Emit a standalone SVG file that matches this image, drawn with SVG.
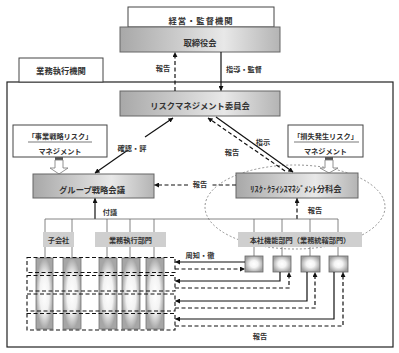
<svg xmlns="http://www.w3.org/2000/svg" width="399" height="353" viewBox="0 0 399 353">
<defs>
<linearGradient id="gBox" x1="0" y1="0" x2="1" y2="0">
<stop offset="0" stop-color="#a8a8a8"/>
<stop offset="0.65" stop-color="#e8e8e8"/>
<stop offset="1" stop-color="#b4b4b4"/>
</linearGradient>
<radialGradient id="gStrip" cx="0.5" cy="0.5" r="0.5">
<stop offset="0" stop-color="#ffffff"/>
<stop offset="0.55" stop-color="#f2f2f2"/>
<stop offset="1" stop-color="#a6a6a6"/>
</radialGradient>
<radialGradient id="gSmall" cx="0.5" cy="0.5" r="0.55">
<stop offset="0" stop-color="#ffffff"/>
<stop offset="0.4" stop-color="#f4f4f4"/>
<stop offset="1" stop-color="#a0a0a0"/>
</radialGradient>
<marker id="ah" viewBox="0 0 6 6" refX="5.5" refY="3" markerWidth="5" markerHeight="5" orient="auto" markerUnits="userSpaceOnUse">
<path d="M0,0 L6,3 L0,6 z" fill="#111"/>
</marker>
<style>
text{font-family:"Noto Sans CJK JP","Noto Sans CJK SC",sans-serif;fill:#333;text-anchor:middle;font-weight:bold}
.t{font-size:8.3px}
.s{font-size:7.2px}
.box{fill:url(#gBox);stroke:#666;stroke-width:1}
.wbox{fill:#fff;stroke:#444;stroke-width:1}
.lbl{fill:#cfcfcf;stroke:none}
.strip{fill:url(#gStrip);stroke:#777;stroke-width:0.8}
.sm{fill:url(#gSmall);stroke:#666;stroke-width:0.8}
.sol{fill:none;stroke:#111;stroke-width:1.2}
.dsh{fill:none;stroke:#111;stroke-width:1.2;stroke-dasharray:4 2.5}
.thin{fill:none;stroke:#666;stroke-width:0.8}
.row{fill:none;stroke:#111;stroke-width:1.1;stroke-dasharray:4 2.5}
.hol{fill:#fff;stroke:#777;stroke-width:0.8}
</style>
</defs>

<g id="frame">
<rect x="7" y="82" width="386" height="265" fill="#fff" stroke="#222" stroke-width="1.2"/>
</g>

<g id="ellipse">
<ellipse cx="295" cy="207" rx="90" ry="42" fill="none" stroke="#777" stroke-width="0.8" stroke-dasharray="2 2"/>
</g>

<g id="kanri">
<rect x="128" y="7" width="146" height="20" class="wbox" stroke="#888"/>
<text x="201" y="24" class="t" letter-spacing="1">経営・監督機関</text>
</g>
<g id="torishimari">
<rect x="120" y="27" width="160" height="25" class="box"/>
<text x="200" y="46" class="t">取締役会</text>
</g>
<g id="gyomu-tab">
<rect x="19" y="58" width="84" height="24" class="wbox" stroke="#888"/>
<text x="61" y="74" class="t">業務執行機関</text>
</g>
<g id="rmc">
<rect x="120" y="91" width="160" height="25" class="box"/>
<text x="200" y="109" class="t">リスクマネジメント委員会</text>
</g>
<g id="jigyo">
<rect x="13" y="125" width="94" height="32" class="wbox"/>
<text x="60" y="139" class="s">「事業戦略リスク」</text>
<line x1="28" y1="142" x2="92" y2="142" stroke="#555" stroke-width="0.8"/>
<text x="60" y="154" class="s">マネジメント</text>
<rect x="55" y="157" width="8" height="3" fill="#555"/>
<path d="M55,160 L63,160 L63,168 L68,168 L59,174 L50,168 L55,168 Z" class="hol"/>
</g>
<g id="sonshitsu">
<rect x="288" y="125" width="75" height="32" class="wbox"/>
<text x="325.5" y="139" class="s">「損失発生リスク」</text>
<line x1="294" y1="142" x2="359" y2="142" stroke="#555" stroke-width="0.8"/>
<text x="325.5" y="154" class="s">マネジメント</text>
<rect x="325" y="157" width="8" height="3" fill="#555"/>
<path d="M325,160 L333,160 L333,168 L338,168 L329,173 L320,168 L325,168 Z" class="hol"/>
</g>
<g id="group">
<rect x="33" y="174" width="121" height="24" class="box"/>
<text x="92" y="193" class="t">グループ戦略会議</text>
</g>
<g id="rmcc">
<rect x="236" y="173" width="122" height="25" class="box"/>
<text x="296" y="192" class="t">ﾘｽｸ･ｸﾗｲｼｽﾏﾈｼﾞﾒﾝﾄ分科会</text>
</g>

<g id="connectors">
<line x1="175" y1="91" x2="175" y2="52.5" class="dsh" marker-end="url(#ah)"/>
<line x1="221" y1="52" x2="221" y2="90.5" class="sol" marker-end="url(#ah)"/>
<line x1="145" y1="137" x2="173" y2="118" class="sol" marker-end="url(#ah)"/>
<line x1="128" y1="150" x2="95" y2="173" class="sol" marker-end="url(#ah)"/>
<line x1="216" y1="117" x2="293" y2="172" class="sol" marker-end="url(#ah)"/>
<line x1="285" y1="171" x2="208" y2="118" class="dsh" marker-end="url(#ah)"/>
<line x1="236" y1="185" x2="212" y2="185" class="dsh"/>
<line x1="188" y1="185" x2="154.5" y2="185" class="dsh" marker-end="url(#ah)"/>
<line x1="95" y1="219" x2="95" y2="198.5" class="sol" marker-end="url(#ah)"/>
<line x1="297" y1="219" x2="297" y2="198.5" class="dsh" marker-end="url(#ah)"/>
<line x1="45" y1="219" x2="338" y2="219" class="thin"/>
<path d="M45,219V258 M72,219V258 M107,219V258 M130,219V258 M154,219V258 M254,219V256 M282,219V256 M310,219V256 M338,219V256" class="thin"/>
</g>

<g id="labels">
<rect x="43" y="232" width="31" height="15" class="lbl"/>
<text x="58.5" y="242.5" class="s">子会社</text>
<rect x="95" y="232" width="71" height="15" class="lbl"/>
<text x="130.5" y="242.5" class="s">業務執行部門</text>
<rect x="238" y="232" width="124" height="15" class="lbl"/>
<text x="300" y="242.5" class="s">本社機能部門（業務統轄部門）</text>
</g>

<g id="strips">
<rect x="36" y="258" width="17" height="71" class="strip"/>
<rect x="63" y="258" width="18" height="71" class="strip"/>
<rect x="99" y="258" width="18" height="71" class="strip"/>
<rect x="122" y="258" width="18" height="71" class="strip"/>
<rect x="146" y="258" width="18" height="71" class="strip"/>
</g>

<g id="rows">
<rect x="27" y="257.5" width="148" height="15" class="row"/>
<rect x="27" y="275.5" width="148" height="15.5" class="row"/>
<rect x="27" y="294" width="148" height="17" class="row"/>
<rect x="27" y="313.5" width="148" height="16.5" class="row"/>
</g>

<g id="honsha-boxes">
<rect x="245" y="256" width="18" height="16" class="sm"/>
<rect x="273" y="256" width="18" height="16" class="sm"/>
<rect x="301" y="256" width="19" height="16" class="sm"/>
<rect x="329" y="256" width="19" height="16" class="sm"/>
</g>

<g id="bottom-connectors">
<line x1="245" y1="262" x2="175.5" y2="262" class="sol" marker-end="url(#ah)"/>
<line x1="175" y1="269" x2="244.5" y2="269" class="dsh" marker-end="url(#ah)"/>
<path d="M280,272 V281 H175.5" class="sol" marker-end="url(#ah)"/>
<path d="M175,288 H289 V272.5" class="dsh" marker-end="url(#ah)"/>
<path d="M307,272 V301 H175.5" class="sol" marker-end="url(#ah)"/>
<path d="M175,308 H315 V272.5" class="dsh" marker-end="url(#ah)"/>
<path d="M334,272 V319 H175.5" class="sol" marker-end="url(#ah)"/>
<path d="M175,326 H343 V272.5" class="dsh" marker-end="url(#ah)"/>
</g>

<g id="conn-labels">
<text x="163" y="71" class="s">報告</text>
<text x="244" y="72" class="s">指導・監督</text>
<text x="132" y="151" class="s">確認・評</text>
<text x="263" y="145" class="s">指示</text>
<text x="232" y="155" class="s">報告</text>
<text x="200" y="187" class="s">報告</text>
<text x="110" y="215" class="s">付議</text>
<text x="315" y="213" class="s">報告</text>
<text x="200" y="258" class="s">周知・徹</text>
<text x="260" y="339" class="s">報告</text>
</g>
</svg>
